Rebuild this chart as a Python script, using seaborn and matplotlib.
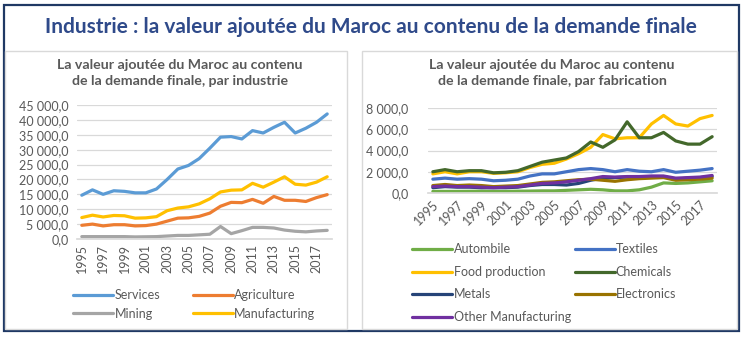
import matplotlib
matplotlib.use("Agg")
import matplotlib.pyplot as plt
import matplotlib.patches as mpatches
from matplotlib.lines import Line2D
from matplotlib.ticker import FuncFormatter
import seaborn as sns
import pandas as pd
import numpy as np

years = list(range(1995, 2019))

# Left chart: by industry
services = [14700, 16500, 15000, 16200, 16000, 15500, 15500, 16800, 20000, 23500, 24700, 27000,
            30500, 34200, 34400, 33600, 36400, 35600, 37500, 39200, 35600, 37200, 39200, 42000]
agriculture = [4600, 5000, 4400, 4800, 4800, 4400, 4500, 5000, 6000, 7000, 7100, 7600,
               8700, 11000, 12300, 12200, 13300, 12000, 14300, 13000, 13000, 12600, 13900, 14900]
mining = [800, 800, 800, 800, 800, 700, 750, 800, 1000, 1200, 1200, 1400,
          1600, 4200, 1800, 2800, 3900, 3900, 3700, 3000, 2600, 2400, 2700, 2900]
manufacturing = [7200, 8000, 7400, 7900, 7800, 7000, 7100, 7500, 9500, 10400, 10800, 11800,
                 13500, 15800, 16400, 16500, 18700, 17400, 19100, 20900, 18400, 18100, 19100, 20900]

# Right chart: by manufacturing branch
automobile = [150, 150, 150, 160, 170, 150, 150, 170, 180, 200, 200, 250,
              300, 350, 300, 200, 200, 300, 550, 950, 900, 950, 1050, 1150]
textiles = [1300, 1400, 1300, 1350, 1300, 1150, 1200, 1300, 1600, 1800, 1800, 2000,
            2200, 2300, 2200, 2000, 2200, 2050, 2000, 2200, 1950, 2050, 2150, 2300]
food = [1800, 2000, 1800, 2000, 2000, 1850, 1900, 2000, 2400, 2700, 2800, 3200,
        3700, 4300, 5500, 5100, 5200, 5200, 6500, 7300, 6500, 6300, 7000, 7300]
chemicals = [2000, 2200, 2000, 2100, 2100, 1900, 1950, 2100, 2500, 2900, 3100, 3300,
             3900, 4800, 4300, 5000, 6700, 5200, 5200, 5700, 4900, 4600, 4600, 5300]
metals = [500, 600, 550, 550, 500, 500, 500, 550, 700, 800, 800, 750,
          900, 1200, 1400, 1450, 1500, 1500, 1550, 1550, 1300, 1400, 1450, 1550]
electronics = [700, 800, 700, 750, 700, 600, 650, 700, 850, 1000, 1050, 1150,
               1250, 1300, 1200, 1100, 1250, 1350, 1400, 1450, 1200, 1250, 1300, 1400]
other_manuf = [600, 650, 600, 600, 550, 500, 550, 600, 750, 900, 950, 1050,
               1200, 1350, 1550, 1500, 1550, 1550, 1600, 1600, 1400, 1450, 1500, 1650]

left_names = ["Services", "Agriculture", "Mining", "Manufacturing"]
left_vals = [services, agriculture, mining, manufacturing]
left_colors = ["#5B9BD5", "#ED7D31", "#A5A5A5", "#FFC000"]

right_names = ["Automobile", "Textiles", "Food production", "Chemicals",
               "Metals", "Electronics", "Other Manufacturing"]
right_labels = ["Autombile", "Textiles", "Food production", "Chemicals",
                "Metals", "Electronics", "Other Manufacturing"]
right_vals = [automobile, textiles, food, chemicals, metals, electronics, other_manuf]
right_colors = ["#70AD47", "#4472C4", "#FFC000", "#43682B", "#264478", "#997300", "#7030A0"]

main_title = "Industrie : la valeur ajoutée du Maroc au contenu de la demande finale"
left_title = "La valeur ajoutée du Maroc au contenu\nde la demande finale, par industrie"
right_title = "La valeur ajoutée du Maroc au contenu\nde la demande finale, par fabrication"

sns.set_theme(style="white")
plt.rcParams["font.family"] = ["Lato", "DejaVu Sans"]

W, H = 742, 341
fig = plt.figure(figsize=(W / 100, H / 100), dpi=100)

def fx(px):
    return px / W

def fy(py):
    return 1 - py / H

# outer border and panels
fig.patches.append(mpatches.Rectangle((fx(4), fy(331)), fx(735), (331 - 5) / H,
                                      transform=fig.transFigure, fill=False,
                                      edgecolor="#1F3864", linewidth=1.6))
for x0, x1 in [(5, 347), (362, 737)]:
    fig.patches.append(mpatches.Rectangle((fx(x0), fy(329)), fx(x1 - x0), (329 - 51) / H,
                                          transform=fig.transFigure, fill=False,
                                          edgecolor="#D9D9D9", linewidth=1.0))

fig.text(0.5, fy(27), main_title, ha="center", va="center", fontsize=15,
         fontweight="bold", color="#2F4A8A")

grey = "#595959"
fmt = FuncFormatter(lambda v, p: f"{v:,.1f}".replace(",", " ").replace(".", ","))

def draw(ax, names, vals, colors, ylim, yticks, rot):
    df = pd.DataFrame({"year": np.tile(years, len(names)),
                       "value": np.concatenate([np.array(v, float) for v in vals]),
                       "series": np.repeat(names, len(years))})
    sns.lineplot(data=df, x="year", y="value", hue="series", hue_order=names,
                 palette=colors, linewidth=2.3, ax=ax, legend=False)
    ax.set_ylim(*ylim)
    ax.set_yticks(yticks)
    ax.yaxis.set_major_formatter(fmt)
    ax.set_xticks(years[::2])
    ax.set_xticklabels([str(y) for y in years[::2]], rotation=rot,
                       ha="center" if rot == 90 else "right",
                       rotation_mode="default" if rot == 90 else "anchor")
    ax.grid(axis="y", color="#D9D9D9", linewidth=0.9)
    ax.set_axisbelow(True)
    for s in ["top", "right", "left"]:
        ax.spines[s].set_visible(False)
    ax.spines["bottom"].set_color("#D9D9D9")
    ax.tick_params(axis="both", length=0, colors=grey, labelsize=9)
    ax.set_xlabel("")
    ax.set_ylabel("")

axL = fig.add_axes([fx(77), fy(239), fx(332 - 77), (239 - 105) / H])
draw(axL, left_names, left_vals, left_colors, (0, 45000), range(0, 45001, 5000), 90)
axL.set_xlim(1994.55, 2018.45)
axL.tick_params(axis="y", pad=6)

axR = fig.add_axes([fx(428), fy(193), fx(717 - 428), (193 - 108) / H])
draw(axR, right_names, right_vals, right_colors, (0, 8000), range(0, 8001, 2000), 45)
axR.set_xlim(1994.6, 2018.4)
axR.tick_params(axis="y", pad=14)
axR.tick_params(axis="x", pad=4)

fig.text(fx(180), fy(73), left_title, ha="center", va="center", fontsize=10.2,
         fontweight="bold", color=grey, linespacing=1.4)
fig.text(fx(552), fy(73), right_title, ha="center", va="center", fontsize=10.2,
         fontweight="bold", color=grey, linespacing=1.4)

def handles(names, colors, order):
    hs = [Line2D([0], [0], color=c, lw=2.3, label=n) for n, c in zip(names, colors)]
    return [hs[i] for i in order]

# row-major display with 2 columns
legL = fig.legend(handles=handles(left_names, left_colors, [0, 2, 1, 3]), ncol=2,
                  loc="upper left", bbox_to_anchor=(fx(62), fy(278)),
                  frameon=False, fontsize=9, handlelength=3.2, handletextpad=0.1,
                  columnspacing=2.6, labelspacing=0.5, labelcolor=grey)
legR = fig.legend(handles=handles(right_labels, right_colors, [0, 2, 4, 6, 1, 3, 5]), ncol=2,
                  loc="upper left", bbox_to_anchor=(fx(401), fy(232)),
                  frameon=False, fontsize=9, handlelength=3.2, handletextpad=0.1,
                  columnspacing=0.3, labelspacing=0.85, labelcolor=grey)

fig.savefig("out.png", dpi=100)
